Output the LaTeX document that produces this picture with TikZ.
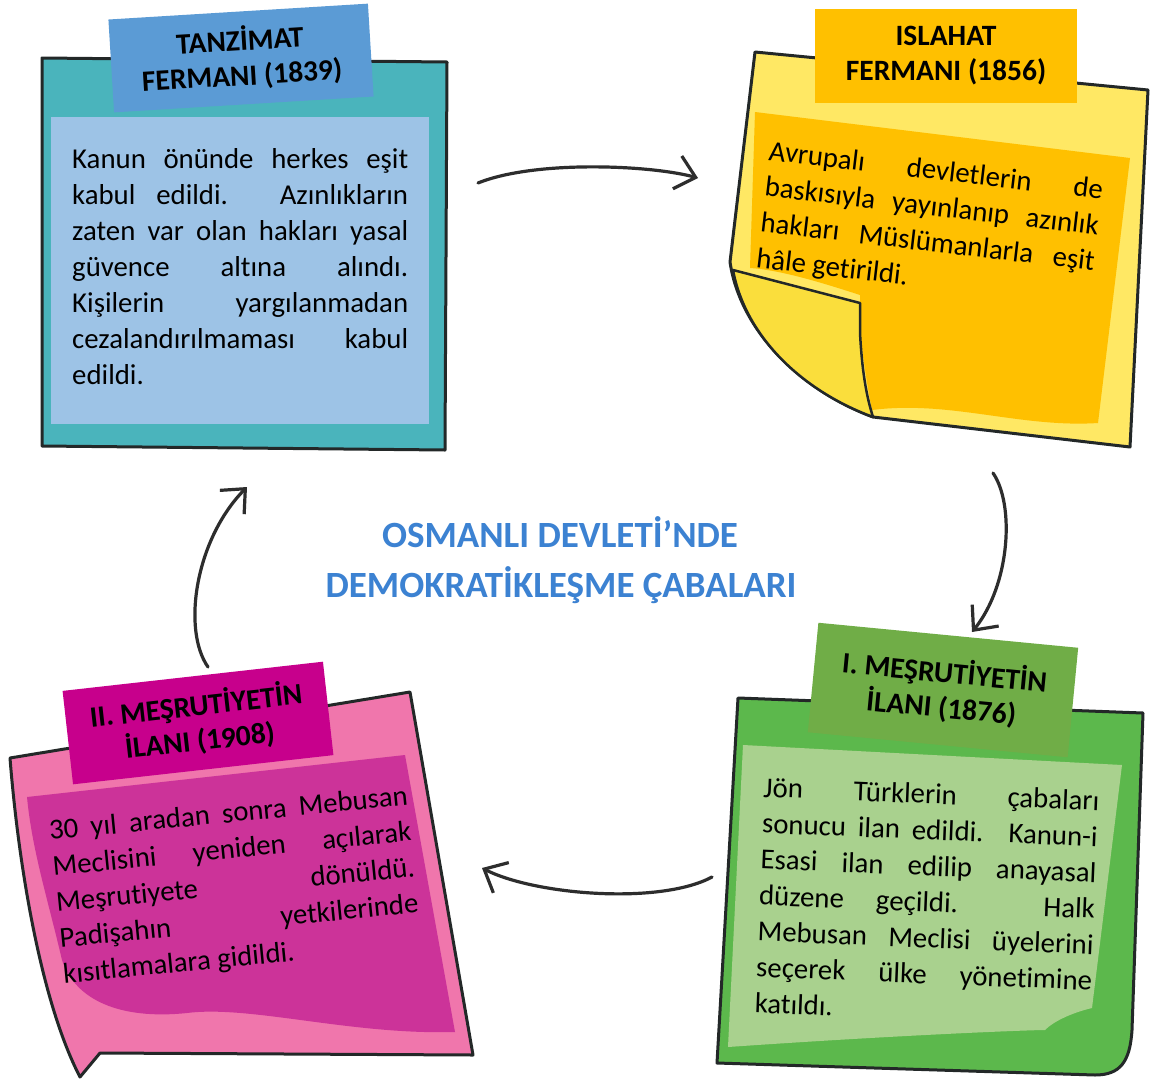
\documentclass[tikz,border=0pt]{standalone}
\usepackage{fontspec}
\setmainfont{Carlito}[Ligatures={NoCommon}]
\usetikzlibrary{arrows.meta}
\definecolor{tealsheet}{RGB}{74,180,188}
\definecolor{lightblue}{RGB}{157,195,230}
\definecolor{tabblue}{RGB}{91,155,213}
\definecolor{yellowsheet}{RGB}{255,232,100}
\definecolor{flapyellow}{RGB}{250,222,60}
\definecolor{orangebox}{RGB}{255,192,0}
\definecolor{greensheet}{RGB}{92,184,76}
\definecolor{lightgreen}{RGB}{169,209,142}
\definecolor{tabgreen}{RGB}{112,173,71}
\definecolor{pinksheet}{RGB}{240,118,172}
\definecolor{magentabox}{RGB}{204,51,153}
\definecolor{tabmagenta}{RGB}{199,0,140}
\definecolor{titleblue}{RGB}{60,130,210}
\definecolor{arrowgray}{RGB}{45,45,45}
\definecolor{edgedark}{RGB}{35,40,40}
\newcommand\myjustline[2]{\makebox[#1][s]{#2}}
\newcommand\mylastline[2]{\makebox[#1][l]{#2}}
\begin{document}
\begin{tikzpicture}[x=1pt,y=-1pt,
  sheetline/.style={draw=edgedark, line width=3pt, line join=round},
  tab/.style={inner sep=0pt, align=center, font=\fontsize{29.5}{35}\selectfont\bfseries, text=black},
  body/.style={inner sep=0pt, anchor=base west, font=\fontsize{28.8}{36}\selectfont, text=black},
  flow/.style={draw=arrowgray, line width=3.2pt, line cap=round, -{Straight Barb[length=19pt,width=34pt]}},
  titletext/.style={inner sep=0pt, anchor=base, font=\fontsize{37}{50}\selectfont\bfseries, text=titleblue}]
\useasboundingbox (0,0) rectangle (1154,1090);
\fill[white] (0,0) rectangle (1154,1090);

% ---------- Tanzimat (teal) ----------
\path[sheetline, fill=tealsheet] (42,58) -- (447,62) -- (445,450) -- (42,446) -- cycle;
\fill[lightblue] (51,117) rectangle (429,424);
\node[tab, fill=tabblue, minimum width=260pt, minimum height=93pt, rotate=3.5] (tab1) at (241,58) {TANZİMAT\\FERMANI (1839)};
\node[body] (t1) at (72,168) {\parbox[t]{336pt}{%
\myjustline{336pt}{Kanun önünde herkes eşit}\\
\myjustline{336pt}{kabul edildi. Azınlıkların}\\
\myjustline{336pt}{zaten var olan hakları yasal}\\
\myjustline{336pt}{güvence altına alındı.}\\
\myjustline{336pt}{Kişilerin yargılanmadan}\\
\myjustline{336pt}{cezalandırılmaması kabul}\\
\mylastline{336pt}{edildi.}}};

% ---------- Islahat (yellow) ----------
\path[sheetline, fill=yellowsheet] (755,52) -- (1148,90) -- (1130,447) -- (873,417)
  .. controls (800,390) and (740,330) .. (730,262) -- cycle;
\fill[orangebox] (755,112) -- (1130,158) -- (1098,423)
  .. controls (1020,428) and (950,400) .. (872,410)
  .. controls (866,380) and (862,350) .. (860,330) -- (860,295)
  .. controls (820,282) and (780,270) .. (750,268) -- cycle;
\path[sheetline, fill=flapyellow, line width=2.5pt] (733,270) -- (860,303) -- (860,333)
  .. controls (862,370) and (866,395) .. (873,417)
  .. controls (800,390) and (745,335) .. (733,270) -- cycle;
\node[tab, fill=orangebox, minimum width=262pt, minimum height=94pt] (tab2) at (946,56) {ISLAHAT\\FERMANI (1856)};
\node[body, rotate=-6.7] (t2) at (768,160) {\parbox[t]{336pt}{%
\myjustline{336pt}{Avrupalı devletlerin de}\\
\myjustline{336pt}{baskısıyla yayınlanıp azınlık}\\
\myjustline{336pt}{hakları Müslümanlarla eşit}\\
\mylastline{336pt}{hâle getirildi.}}};

% ---------- I. Mesrutiyet (green) ----------
\path[sheetline, fill=greensheet] (738,698) -- (1143,713) -- (1132,1030)
  .. controls (1130,1062) and (1120,1075) .. (1095,1075) -- (717,1063) -- cycle;
\fill[lightgreen] (743,745) -- (1122,765) -- (1092,1008)
  .. controls (1075,1012) and (1055,1020) .. (1045,1030)
  .. controls (1030,1030) and (900,1035) .. (728,1047) -- cycle;
\node[tab, fill=tabgreen, minimum width=261pt, minimum height=110pt, rotate=-5.5] (tab3) at (943,690) {I. MEŞRUTİYETİN\\İLANI (1876)};
\node[body, rotate=-2.3] (t3) at (763,797) {\parbox[t]{336pt}{%
\myjustline{336pt}{Jön Türklerin çabaları}\\
\myjustline{336pt}{sonucu ilan edildi. Kanun-i}\\
\myjustline{336pt}{Esasi ilan edilip anayasal}\\
\myjustline{336pt}{düzene geçildi. Halk}\\
\myjustline{336pt}{Mebusan Meclisi üyelerini}\\
\myjustline{336pt}{seçerek ülke yönetimine}\\
\mylastline{336pt}{katıldı.}}};

% ---------- II. Mesrutiyet (pink) ----------
\path[sheetline, fill=pinksheet] (10,758) -- (410,692) -- (473,1055) -- (100,1053) -- (80,1077)
  .. controls (40,1000) and (18,860) .. (10,758) -- cycle;
\fill[magentabox] (27,797) -- (405,755) -- (455,1032)
  .. controls (350,1035) and (250,1005) .. (187,1013)
  .. controls (120,1020) and (75,1000) .. (62,960)
  .. controls (48,900) and (32,850) .. cycle;
\node[tab, fill=tabmagenta, minimum width=262pt, minimum height=94pt, rotate=6.4] (tab4) at (198,723) {II. MEŞRUTİYETİN\\İLANI (1908)};
\node[body, rotate=5.6] (t4) at (50,840) {\parbox[t]{360pt}{%
\myjustline{360pt}{30 yıl aradan sonra Mebusan}\\
\myjustline{360pt}{Meclisini yeniden açılarak}\\
\myjustline{360pt}{Meşrutiyete dönüldü.}\\
\myjustline{360pt}{Padişahın yetkilerinde}\\
\mylastline{360pt}{kısıtlamalara gidildi.}}};

% ---------- title ----------
\node[titletext] (title1) at (560,547) {OSMANLI DEVLETİ’NDE};
\node[titletext] (title2) at (561,597) {DEMOKRATİKLEŞME ÇABALARI};

% ---------- arrows ----------
\coordinate (a1s) at (478,183);
\coordinate (a1e) at (698,178);
\coordinate (a2s) at (993,473);
\coordinate (a2e) at (972,632);
\coordinate (a3s) at (712,877);
\coordinate (a3e) at (482,868);
\coordinate (a4s) at (208,667);
\coordinate (a4e) at (247,487);
\draw[flow] (a1s) .. controls (535,160) and (650,165) .. (a1e);
\draw[flow] (a2s) .. controls (1015,505) and (1010,585) .. (a2e);
\draw[flow] (a3s) .. controls (660,905) and (535,895) .. (a3e);
\draw[flow] (a4s) .. controls (182,630) and (195,540) .. (a4e);
\end{tikzpicture}
\end{document}
